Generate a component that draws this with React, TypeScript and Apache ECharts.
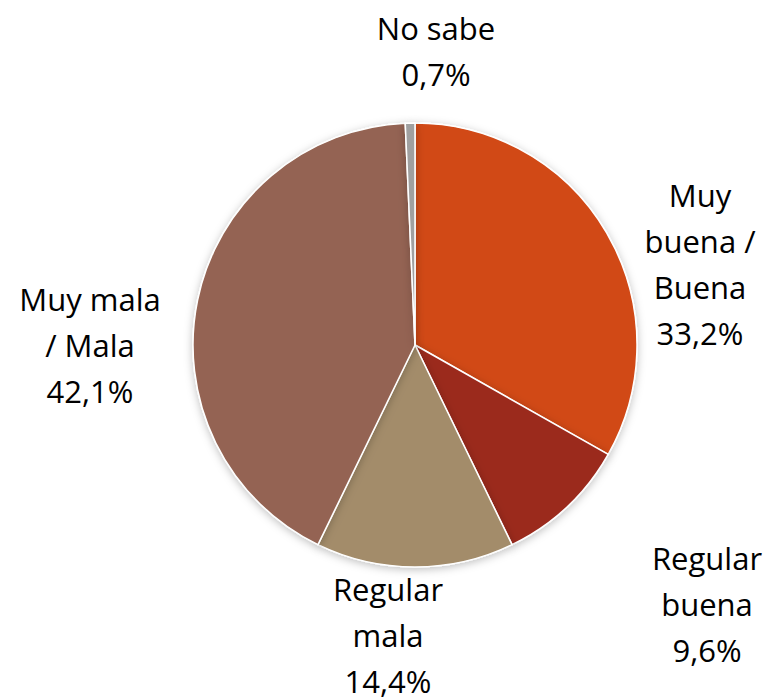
import React, { useEffect, useRef } from "react";
import * as echarts from "echarts";

const categories = ["Muy buena / Buena", "Regular buena", "Regular mala", "Muy mala / Mala", "No sabe"];
const labelTexts = ["Muy\nbuena /\nBuena", "Regular\nbuena", "Regular\nmala", "Muy mala\n/ Mala", "No sabe"];
const values = [33.2, 9.6, 14.4, 42.1, 0.7];
const colors = ["#D14A18", "#9B2B1F", "#A38C6A", "#946452", "#A0A0A0"];
const labelPos: [number, number][] = [
  [700, 264],
  [707, 604],
  [388, 635],
  [90, 345],
  [436, 51],
];

export default function App() {
  const ref = useRef<HTMLDivElement>(null);
  useEffect(() => {
    document.body.style.margin = "0";
    const chart = echarts.init(ref.current!, null, { renderer: "svg" });
    chart.setOption({
      animation: false,
      backgroundColor: "#ffffff",
      series: [
        {
          type: "pie",
          center: [415, 345],
          radius: 222,
          startAngle: 90,
          clockwise: true,
          avoidLabelOverlap: false,
          itemStyle: {
            borderColor: "#ffffff",
            borderWidth: 1.5,
            shadowBlur: 8,
            shadowColor: "rgba(0,0,0,0.25)",
            shadowOffsetY: 2,
          },
          label: {
            show: true,
            position: "outside",
            fontFamily: "Open Sans",
            fontSize: 31,
            lineHeight: 46,
            color: "#000000",
            align: "center",
            overflow: "none",
            width: 200,
            formatter: (p: any) =>
              labelTexts[p.dataIndex] + "\n" + p.value.toFixed(1).replace(".", ",") + "%",
          },
          labelLine: { show: false },
          labelLayout: (p: any) => ({
            x: labelPos[p.dataIndex][0],
            y: labelPos[p.dataIndex][1],
            align: "center",
            verticalAlign: "middle",
          }),
          data: categories.map((c, i) => ({
            name: c,
            value: values[i],
            itemStyle: { color: colors[i] },
          })),
        },
      ],
    });
    return () => chart.dispose();
  }, []);
  return <div ref={ref} style={{ width: 771, height: 699 }} />;
}
